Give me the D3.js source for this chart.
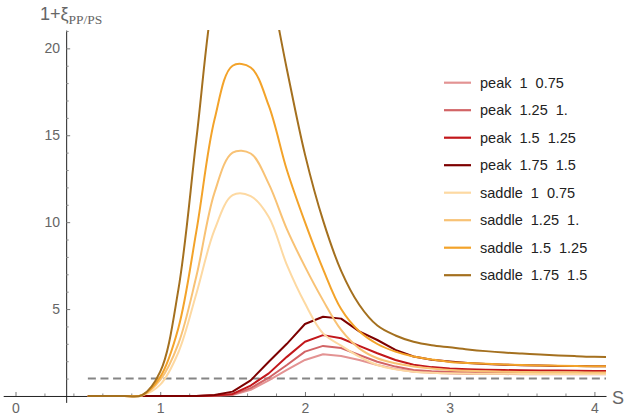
<!DOCTYPE html>
<html>
<head>
<meta charset="utf-8">
<script src="https://cdn.jsdelivr.net/npm/d3@7"></script>
<style>
  html, body { margin: 0; padding: 0; background: #fff; }
  svg { display: block; font-family: "Liberation Sans", Arial, sans-serif; }
  .leg text { white-space: pre; }
</style>
</head>
<body>
<svg id="chart" width="628" height="420"></svg>
<script>
// ---- data ----
const sValues = [0.5,0.625,0.75,0.875,1,1.125,1.25,1.375,1.5,1.625,1.75,1.875,2,2.125,2.25,2.375,2.5,2.625,2.75,2.875,3,3.125,3.25,3.375,3.5,3.625,3.75,3.875,4,4.125];

const seriesNames = ["peak  1  0.75","peak  1.25  1.","peak  1.5  1.25","peak  1.75  1.5",
                     "saddle  1  0.75","saddle  1.25  1.","saddle  1.5  1.25","saddle  1.75  1.5"];

const peak1 =    [0,0,0,0,0,0,0,0.01,0.06,0.35,0.9,1.5,2.07,2.4,2.3,2.07,1.78,1.55,1.4,1.33,1.29,1.27,1.26,1.26,1.25,1.25,1.25,1.25,1.25,1.25];
const peak125 =  [0,0,0,0,0,0,0,0.02,0.08,0.45,1.05,1.78,2.55,2.88,2.76,2.36,1.97,1.69,1.5,1.42,1.38,1.36,1.35,1.34,1.34,1.33,1.33,1.33,1.32,1.32];
const peak15 =   [0,0,0,0,0,0,0,0.02,0.12,0.6,1.3,2.25,3.12,3.5,3.32,2.88,2.46,2.07,1.8,1.66,1.58,1.54,1.51,1.49,1.48,1.47,1.46,1.45,1.44,1.44];
const peak175 =  [0,0,0,0,0,0,0,0.05,0.25,0.9,1.97,3.0,4.14,4.56,4.45,3.72,3.22,2.65,2.27,2.08,1.98,1.9,1.84,1.8,1.77,1.75,1.73,1.72,1.71,1.70];
const saddle1 =  [0,0,0,0.03,0.65,2.5,5.9,9.55,11.55,11.5,10.3,7.54,5.33,3.6,2.9,2.26,1.78,1.53,1.4,1.34,1.3,1.29,1.28,1.28,1.27,1.27,1.27,1.27,1.27,1.27];
const saddle125 =[0,0,0,0.04,0.92,3.0,6.9,11.7,14.0,13.95,12.2,9.6,7.44,5.5,3.8,2.74,2.17,1.88,1.7,1.58,1.5,1.45,1.42,1.4,1.38,1.37,1.36,1.36,1.35,1.35];
const saddle15 = [0,0,0,0.05,1.1,3.9,9.5,15.9,19.0,18.9,16.7,13.0,10.0,7.3,5.0,3.72,2.99,2.55,2.27,2.1,1.96,1.9,1.85,1.81,1.78,1.76,1.74,1.72,1.71,1.70];
const saddle175 =[0,0,0,0.05,1.4,6.1,14.8,23.5,27.5,28,24,18.8,13.9,10.1,7.2,5.25,4.05,3.48,3.12,2.92,2.8,2.68,2.58,2.5,2.44,2.38,2.33,2.29,2.25,2.23];

const seriesValues = [peak1, peak125, peak15, peak175, saddle1, saddle125, saddle15, saddle175];
const seriesColors = ["#e39393","#d26466","#c2171b","#7d0000","#fdd9a2","#f8c275","#f3a32a","#a4701f"];

const xTicks = [0,1,2,3,4];
const yTicks = [5,10,15,20];
const referenceLevel = 1;

// ---- scales ----
const svg = d3.select("#chart");
const x = d3.scaleLinear().domain([-0.085, 4.08]).range([3.2, 606]);
const y = d3.scaleLinear().domain([-0.37, 21.05]).range([402.4, 30.1]);
const yAxisAt = 0.35;

svg.append("defs").append("clipPath").attr("id","clip")
  .append("rect").attr("x", x.range()[0]).attr("y", y.range()[1])
  .attr("width", x.range()[1]-x.range()[0]).attr("height", y.range()[0]-y.range()[1]);

// ---- axes ----
const minorX = d3.range(0, 4.1, 0.2).filter(v => !xTicks.some(t => Math.abs(t - v) < 1e-6));
const minorY = d3.range(1, 22, 1).filter(v => !yTicks.includes(v) && v <= 21);

const gx = svg.append("g").attr("transform", `translate(0,${y(0)})`);
gx.call(d3.axisBottom(x).tickValues(xTicks).tickFormat(d3.format("d"))
  .tickSizeInner(-4).tickSizeOuter(0).tickPadding(7));
gx.select(".domain").attr("stroke", "#222");
gx.selectAll(".tick line").attr("stroke", "#777");
gx.selectAll(".tick text").attr("fill", "#666").attr("font-size", 14)
  .attr("font-family", "Liberation Sans, Arial, sans-serif");
const gxm = svg.append("g").attr("transform", `translate(0,${y(0)})`);
gxm.call(d3.axisBottom(x).tickValues(minorX).tickFormat("").tickSizeInner(-2.5).tickSizeOuter(0));
gxm.select(".domain").remove();
gxm.selectAll(".tick line").attr("stroke", "#888");

const gy = svg.append("g").attr("transform", `translate(${x(yAxisAt)},0)`);
gy.call(d3.axisLeft(y).tickValues(yTicks).tickFormat(d3.format("d"))
  .tickSizeInner(-4).tickSizeOuter(0).tickPadding(6));
gy.select(".domain").attr("stroke", "#222");
gy.selectAll(".tick line").attr("stroke", "#777");
gy.selectAll(".tick text").attr("fill", "#666").attr("font-size", 14)
  .attr("font-family", "Liberation Sans, Arial, sans-serif");
const gym = svg.append("g").attr("transform", `translate(${x(yAxisAt)},0)`);
gym.call(d3.axisLeft(y).tickValues(minorY).tickFormat("").tickSizeInner(-2.5).tickSizeOuter(0));
gym.select(".domain").remove();
gym.selectAll(".tick line").attr("stroke", "#888");

// axis titles
const yt = svg.append("text").attr("x", 40).attr("y", 20)
  .attr("fill", "#666").attr("font-size", 18);
yt.append("tspan").text("1+ξ");
yt.append("tspan").attr("font-family", "Liberation Serif, Times New Roman, serif")
  .attr("font-size", 13.5).attr("dy", 4).text("PP/PS");

svg.append("text").attr("x", 612).attr("y", 403.5)
  .attr("fill", "#666").attr("font-size", 18).text("S");

// ---- reference dashed line ----
const plot = svg.append("g").attr("clip-path", "url(#clip)");
plot.append("line")
  .attr("x1", x(sValues[0])).attr("x2", x(sValues[sValues.length-1]))
  .attr("y1", y(referenceLevel)).attr("y2", y(referenceLevel))
  .attr("stroke", "#858585").attr("stroke-width", 2).attr("stroke-dasharray", "8,4.6");

// ---- curves ----
const linePeak = d3.line().x((d,i) => x(sValues[i])).y(d => y(d));
const lineSaddle = d3.line().x((d,i) => x(sValues[i])).y(d => y(d)).curve(d3.curveCatmullRom.alpha(0.5));
seriesValues.forEach((vals, k) => {
  plot.append("path").datum(vals)
    .attr("d", k < 4 ? linePeak : lineSaddle)
    .attr("fill", "none")
    .attr("stroke", seriesColors[k])
    .attr("stroke-width", 2)
    .attr("stroke-linejoin", "round");
});

// ---- legend ----
const leg = svg.append("g").attr("class", "leg");
seriesNames.forEach((name, i) => {
  const cy = 82.7 + 27.5 * i;
  leg.append("line").attr("x1", 444).attr("x2", 471).attr("y1", cy).attr("y2", cy)
    .attr("stroke", seriesColors[i]).attr("stroke-width", 2.2);
  leg.append("text").attr("x", 480).attr("y", cy).attr("dy", "0.35em")
    .attr("font-size", 14.5).attr("fill", "#222").text(name);
});
</script>
</body>
</html>
